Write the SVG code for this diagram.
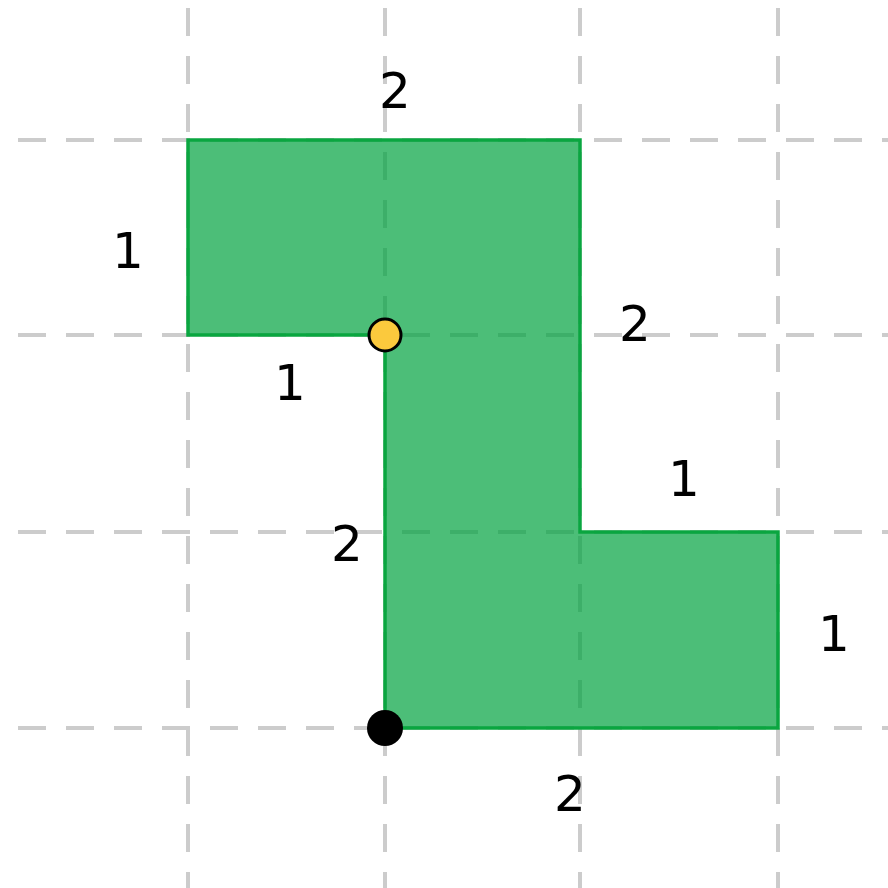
<svg xmlns="http://www.w3.org/2000/svg" width="888" height="888" viewBox="0 0 888 888">
<style>
.grid{stroke:#cccccc;stroke-width:4;stroke-dasharray:28 20;fill:none}
.lbl{font-family:"DejaVu Sans",sans-serif;font-size:50px;fill:#000;text-anchor:middle}
</style>
<rect width="888" height="888" fill="#fff"/>
<g id="grid">
<line class="grid" x1="188" y1="8" x2="188" y2="888"/>
<line class="grid" x1="385" y1="8" x2="385" y2="888"/>
<line class="grid" x1="580" y1="8" x2="580" y2="888"/>
<line class="grid" x1="778" y1="8" x2="778" y2="888"/>
<line class="grid" x1="18" y1="140" x2="888" y2="140"/>
<line class="grid" x1="18" y1="335" x2="888" y2="335"/>
<line class="grid" x1="18" y1="532" x2="888" y2="532"/>
<line class="grid" x1="18" y1="728" x2="888" y2="728"/>
</g>
<g id="shape">
<polygon points="188,140 580,140 580,532 778,532 778,728 385,728 385,335 188,335" fill="#00a33e" fill-opacity="0.7" stroke="#0aa640" stroke-width="3.5"/>
</g>
<g id="labels">
<text class="lbl" x="395" y="108">2</text>
<text class="lbl" x="128" y="268">1</text>
<text class="lbl" x="635" y="341">2</text>
<text class="lbl" x="290" y="400">1</text>
<text class="lbl" x="684" y="496">1</text>
<text class="lbl" x="347" y="561">2</text>
<text class="lbl" x="834" y="651">1</text>
<text class="lbl" x="570" y="811">2</text>
</g>
<g id="points">
<circle cx="385" cy="335" r="16" fill="#fbc93d" stroke="#000" stroke-width="3"/>
<circle cx="385" cy="728" r="18" fill="#000"/>
</g>
</svg>
